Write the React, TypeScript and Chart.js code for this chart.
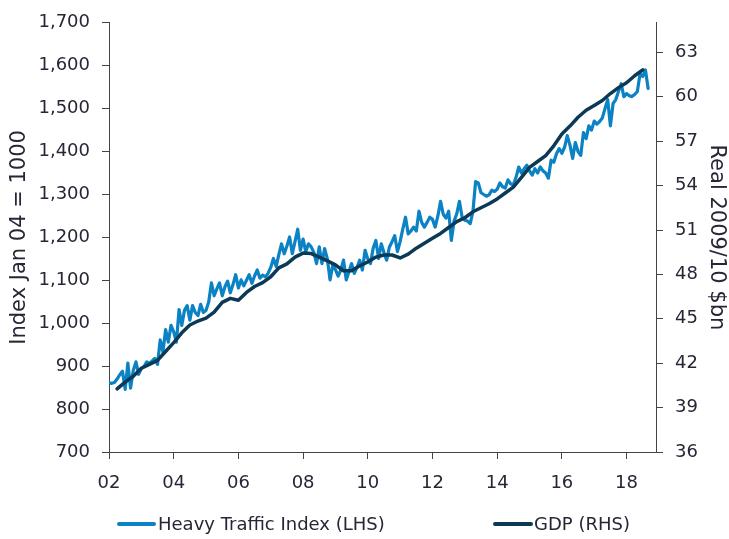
import React, { useEffect, useRef } from 'react';
import { Chart, registerables } from 'chart.js';

Chart.register(...registerables);

// X axis ticks (years) and their labels
const xTickYears = [2002, 2004, 2006, 2008, 2010, 2012, 2014, 2016, 2018];
const xTickLabels = ['02', '04', '06', '08', '10', '12', '14', '16', '18'];
const xMin = 2002;
const xMax = 2018.91;

// Left axis ticks (Index) and right axis ticks (GDP)
const leftTicks = [700, 800, 900, 1000, 1100, 1200, 1300, 1400, 1500, 1600, 1700];
const rightTicks = [36, 39, 42, 45, 48, 51, 54, 57, 60, 63];
const rightMax = 65;

// Heavy Traffic Index (LHS), monthly from Jan 2002
const htiStartYear = 2002;
const htiMonthly = [
  861, 860, 862, 870, 880, 888, 846, 907, 849, 890, 910, 881, // 2002
  895, 899, 910, 907, 912, 918, 904, 961, 933, 985, 956, 995, // 2003
  980, 956, 1032, 995, 1030, 1041, 1007, 1041, 1025, 1018, 1044, 1025, // 2004
  1030, 1050, 1094, 1064, 1080, 1094, 1064, 1085, 1098, 1071, 1090, 1113, // 2005
  1082, 1101, 1087, 1100, 1113, 1093, 1110, 1124, 1105, 1112, 1108, 1116, // 2006
  1130, 1151, 1132, 1160, 1185, 1162, 1180, 1201, 1162, 1190, 1219, 1170, // 2007
  1196, 1167, 1185, 1178, 1165, 1139, 1178, 1139, 1174, 1150, 1101, 1135, // 2008
  1125, 1110, 1124, 1147, 1101, 1120, 1139, 1116, 1130, 1147, 1124, 1170, // 2009
  1150, 1139, 1175, 1193, 1151, 1185, 1165, 1147, 1177, 1190, 1204, 1167, // 2010
  1190, 1220, 1247, 1208, 1215, 1224, 1215, 1261, 1235, 1224, 1235, 1247, // 2011
  1242, 1224, 1250, 1284, 1254, 1245, 1261, 1193, 1238, 1255, 1284, 1247, // 2012
  1240, 1238, 1232, 1260, 1330, 1327, 1304, 1300, 1296, 1299, 1310, 1307, // 2013
  1312, 1327, 1318, 1315, 1334, 1325, 1322, 1340, 1364, 1350, 1360, 1368, // 2014
  1355, 1345, 1360, 1350, 1364, 1355, 1350, 1338, 1380, 1375, 1395, 1407, // 2015
  1396, 1410, 1437, 1415, 1384, 1421, 1400, 1391, 1444, 1430, 1460, 1450, // 2016
  1471, 1464, 1470, 1478, 1500, 1521, 1460, 1512, 1521, 1540, 1558, 1528, // 2017
  1535, 1530, 1528, 1533, 1540, 1581, 1575, 1590, 1547, // 2018
];

// GDP (RHS), quarterly from Q2 2002, real 2009/10 $bn
const gdpStartYear = 2002.25;
const gdpQuarterly = [
  40.26, 40.72, 41.12, 41.66, 41.92, 42.19, 42.79, 43.39, 44.05, 44.58,
  44.85, 45.05, 45.45, 46.11, 46.38, 46.25, 46.78, 47.18, 47.44, 47.84,
  48.44, 48.71, 49.17, 49.44, 49.41, 49.17, 48.91, 48.64, 48.24, 48.24,
  48.58, 48.84, 49.17, 49.31, 49.31, 49.11, 49.37, 49.77, 50.11, 50.44,
  50.77, 51.17, 51.57, 51.83, 52.23, 52.50, 52.77, 53.10, 53.50, 53.90,
  54.56, 55.23, 55.63, 56.03, 56.69, 57.49, 58.02, 58.62, 59.09, 59.42,
  59.75, 60.22, 60.62, 60.95, 61.42, 61.82,
];

const htiLabel = 'Heavy Traffic Index (LHS)';
const gdpLabel = 'GDP (RHS)';

const HTI_COLOR = '#0a82c4';
const GDP_COLOR = '#0c3a56';
const TEXT_COLOR = '#262636';
const AXIS_COLOR = '#444444';
const FONT = "'DejaVu Sans', Verdana, sans-serif";

export default function App() {
  const canvasRef = useRef<HTMLCanvasElement>(null);

  useEffect(() => {
    const canvas = canvasRef.current;
    if (!canvas) return;
    const chart = new Chart(canvas, {
      type: 'line',
      data: {
        datasets: [
          {
            label: htiLabel,
            data: htiMonthly.map((v, i) => ({ x: htiStartYear + i / 12, y: v })),
            yAxisID: 'yL',
            borderColor: HTI_COLOR,
            borderWidth: 3.2,
            pointRadius: 0,
            borderJoinStyle: 'round',
            borderCapStyle: 'round',
            order: 2,
          },
          {
            label: gdpLabel,
            data: gdpQuarterly.map((v, i) => ({ x: gdpStartYear + i * 0.25, y: v })),
            yAxisID: 'yR',
            borderColor: GDP_COLOR,
            borderWidth: 3.5,
            pointRadius: 0,
            borderJoinStyle: 'round',
            borderCapStyle: 'round',
            order: 1,
          },
        ],
      },
      options: {
        responsive: false,
        animation: false,
        layout: { padding: { top: 15, left: 0, right: 0, bottom: 0 } },
        plugins: {
          legend: { display: false },
          tooltip: { enabled: false },
        },
        scales: {
          x: {
            type: 'linear',
            position: 'bottom',
            min: xMin,
            max: xMax,
            grid: {
              display: true,
              drawOnChartArea: false,
              drawTicks: true,
              tickLength: 7,
              color: AXIS_COLOR,
            },
            border: { display: true, color: AXIS_COLOR, width: 1 },
            ticks: {
              padding: 14,
              color: TEXT_COLOR,
              font: { family: FONT, size: 18 },
              maxRotation: 0,
              autoSkip: false,
              callback: (value: any) => {
                const idx = xTickYears.indexOf(Number(value));
                return idx >= 0 ? xTickLabels[idx] : '';
              },
            },
            afterBuildTicks: (scale: any) => {
              scale.ticks = xTickYears.map((v) => ({ value: v }));
            },
            afterFit: (scale: any) => {
              scale.height = 87;
            },
          },
          yL: {
            type: 'linear',
            position: 'left',
            min: leftTicks[0],
            max: leftTicks[leftTicks.length - 1],
            grid: {
              display: true,
              drawOnChartArea: false,
              drawTicks: true,
              tickLength: 7,
              color: AXIS_COLOR,
            },
            border: { display: true, color: AXIS_COLOR, width: 1 },
            ticks: {
              padding: 12,
              color: TEXT_COLOR,
              font: { family: FONT, size: 18 },
              autoSkip: false,
              callback: (value: any) => Number(value).toLocaleString('en-US'),
            },
            afterBuildTicks: (scale: any) => {
              scale.ticks = leftTicks.map((v) => ({ value: v }));
            },
            title: {
              display: true,
              text: 'Index Jan 04 = 1000',
              color: TEXT_COLOR,
              font: { family: FONT, size: 21 },
              padding: { top: 7, bottom: 0 },
            },
            afterFit: (scale: any) => {
              scale.width = 109;
            },
          },
          yR: {
            type: 'linear',
            position: 'right',
            min: rightTicks[0],
            max: rightMax,
            grid: {
              display: true,
              drawOnChartArea: false,
              drawTicks: true,
              tickLength: 7,
              color: AXIS_COLOR,
            },
            border: { display: true, color: AXIS_COLOR, width: 1 },
            ticks: {
              padding: 12,
              color: TEXT_COLOR,
              font: { family: FONT, size: 18 },
              autoSkip: false,
              callback: (value: any) => String(value),
            },
            afterBuildTicks: (scale: any) => {
              scale.ticks = rightTicks.map((v) => ({ value: v }));
            },
            title: {
              display: true,
              text: 'Real 2009/10 $bn',
              color: TEXT_COLOR,
              font: { family: FONT, size: 21 },
              padding: { top: 0, bottom: 0 },
            },
            afterFit: (scale: any) => {
              scale.width = 73;
            },
          },
        },
      },
    });
    return () => chart.destroy();
  }, []);

  const legendText: React.CSSProperties = {
    position: 'absolute',
    top: 512,
    fontFamily: FONT,
    fontSize: 18,
    color: TEXT_COLOR,
    lineHeight: '24px',
    whiteSpace: 'nowrap',
  };
  const legendLine = (color: string): React.CSSProperties => ({
    position: 'absolute',
    top: 522,
    height: 4,
    borderRadius: 2,
    background: color,
  });

  return (
    <div style={{ position: 'fixed', left: 0, top: 0, width: 729, height: 539, background: '#ffffff' }}>
      <canvas ref={canvasRef} width={729} height={539} style={{ display: 'block' }} />
      <div style={{ ...legendLine(HTI_COLOR), left: 117, width: 39 }} />
      <div style={{ ...legendText, left: 158 }}>{htiLabel}</div>
      <div style={{ ...legendLine(GDP_COLOR), left: 493, width: 40 }} />
      <div style={{ ...legendText, left: 534 }}>{gdpLabel}</div>
    </div>
  );
}
